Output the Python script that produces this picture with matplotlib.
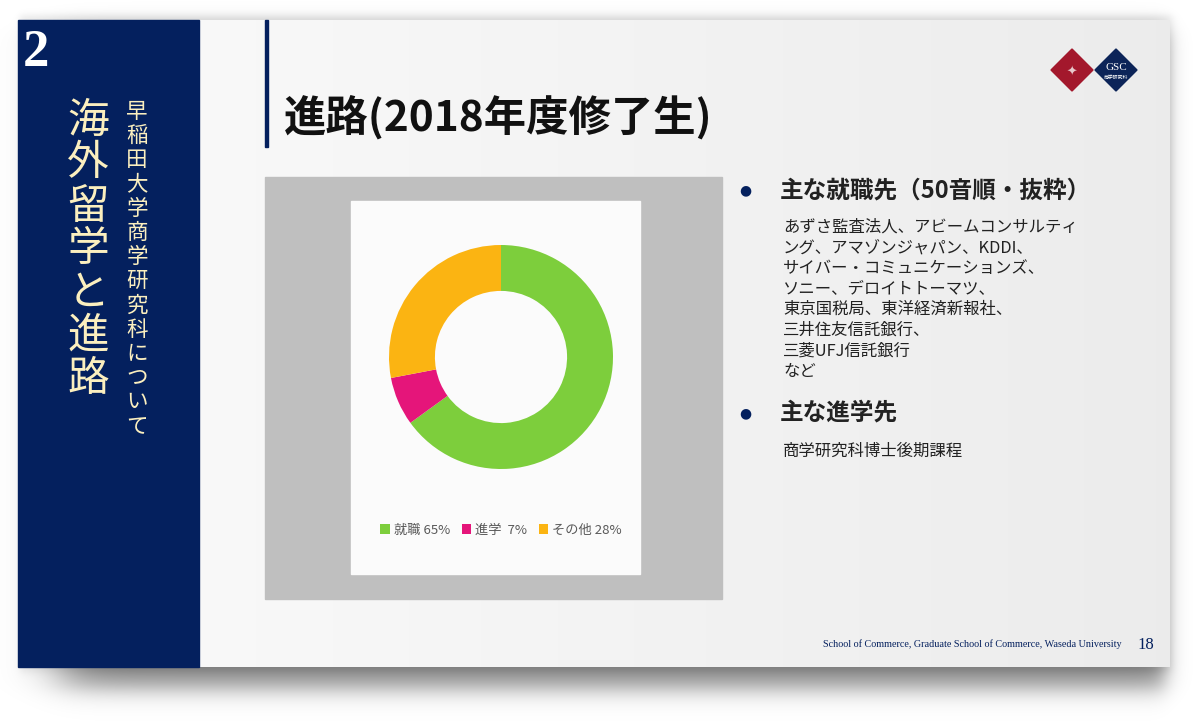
import numpy as np
import matplotlib
matplotlib.use("Agg")
import matplotlib.pyplot as plt
from matplotlib.patches import Rectangle, Polygon
from matplotlib.font_manager import FontProperties

plt.rcParams['font.family'] = ['Noto Sans CJK JP', 'DejaVu Sans']

# ---- data ----
categories = ["就職", "進学", "その他"]
shares = [65, 7, 28]
colors = ["#7dce3c", "#e5157a", "#fbb412"]

title = "進路(2018年度修了生)"
side_title = "海外留学と進路"
side_sub = "早稲田大学商学研究科について"
section_no = "2"
heading1 = "主な就職先（50音順・抜粋）"
body1 = ["あずさ監査法人、アビームコンサルティ",
         "ング、アマゾンジャパン、KDDI、",
         "サイバー・コミュニケーションズ、",
         "ソニー、デロイトトーマツ、",
         "東京国税局、東洋経済新報社、",
         "三井住友信託銀行、",
         "三菱UFJ信託銀行",
         "など"]
heading2 = "主な進学先"
body2 = ["商学研究科博士後期課程"]
footer = "School of Commerce, Graduate School of Commerce, Waseda University"
page_no = "18"

NAVY = "#04205e"
CREAM = "#fbefbf"

fig = plt.figure(figsize=(12, 7.21), dpi=100)
fig.patch.set_facecolor("white")
bg = fig.add_axes([0, 0, 1, 1])
bg.set_xlim(0, 1200)
bg.set_ylim(721, 0)
bg.axis("off")

# drop shadow (soft)
X, Y = np.meshgrid(np.arange(1200) + 0.5, np.arange(721) + 0.5)
def band(v, a, b, sa, sb):
    return 0.5 * (1 + np.tanh((v - a) / sa)) * 0.5 * (1 - np.tanh((v - b) / sb))
sh = band(X, 60, 1165, 30, 12) * band(Y, 30, 688, 12, 14)
sh2 = band(X, 20, 1172, 4, 5) * band(Y, 15, 672, 4, 5)
rgba = np.zeros((721, 1200, 4))
rgba[..., 3] = np.clip(sh * 0.45 + sh2 * 0.08, 0, 1)
bg.imshow(rgba, extent=[0, 1200, 721, 0], zorder=0, interpolation="bilinear")

# slide background gradient
grad = np.linspace(0, 1, 256)
c0 = np.array([0.985, 0.985, 0.985])
c1 = np.array([0.925, 0.925, 0.925])
img = (c0[None, :] * (1 - grad[:, None]) + c1[None, :] * grad[:, None])[None, :, :]
bg.imshow(img, extent=[18, 1170, 667, 20], aspect="auto", zorder=1)

# left navy panel
bg.add_patch(Rectangle((18, 20), 181, 647, color=NAVY, zorder=2))
bg.text(36, 53, section_no, color="white", fontsize=38, fontweight="bold",
        family="Liberation Serif", ha="center", va="center", zorder=3)
for i, ch in enumerate(side_title):
    bg.text(88, 121 + i * 43, ch, color=CREAM, fontsize=30, ha="center",
            va="center", zorder=3)
for i, ch in enumerate(side_sub):
    bg.text(137, 112 + i * 24.2, ch, color=CREAM, fontsize=15.5, ha="center",
            va="center", zorder=3)

# title bar and title
bg.add_patch(Rectangle((265, 20), 3, 127, color=NAVY, zorder=2))
bg.text(284, 117, title, fontsize=30.5, fontweight="bold", color="#111111",
        ha="left", va="center", zorder=3)

# logos
bg.add_patch(Polygon([(1072, 49), (1093, 70), (1072, 91), (1051, 70)],
                     closed=True, color="#a3182c", zorder=3))
bg.add_patch(Polygon([(1116, 49), (1137, 70), (1116, 91), (1095, 70)],
                     closed=True, color="#0c2458", zorder=3))
bg.text(1072, 72, "✦", color="#e8c9cc", fontsize=9, ha="center", va="center",
        family="DejaVu Sans", zorder=4)
bg.text(1116, 67, "GSC", color="white", fontsize=8, family="Liberation Serif",
        ha="center", va="center", zorder=4)
bg.text(1116, 77, "商学研究科", color="white", fontsize=3.5, ha="center",
        va="center", zorder=4)

# chart frame
bg.add_patch(Rectangle((265, 177), 457, 422, color="#bfbfbf", zorder=2))
bg.add_patch(Rectangle((351, 201), 289, 373, color="#fbfbfb", zorder=3))

# donut
cx, cy, r = 501, 357, 112
pax = fig.add_axes([(cx - r) / 1200, 1 - (cy + r) / 721, 2 * r / 1200, 2 * r / 721])
wedges, _ = pax.pie(shares, colors=colors, startangle=90, counterclock=False,
                    radius=1, wedgeprops=dict(width=0.41, edgecolor="none"))
pax.set_xlim(-1, 1)
pax.set_ylim(-1, 1)
pax.set_aspect("equal")
pax.axis("off")

labels = [f"{c} {v:>2}%" for c, v in zip(categories, shares)]
leg = fig.legend(wedges, labels, loc="center",
                 bbox_to_anchor=(501 / 1200, 1 - 530 / 721), ncol=3,
                 frameon=False, handlelength=0.7, handleheight=0.7,
                 handletextpad=0.3, columnspacing=0.9,
                 prop=FontProperties(family=['Noto Sans CJK JP'], size=9.5))
for t in leg.get_texts():
    t.set_color("#595959")

# right text
bg.text(745, 190, "●", color=NAVY, fontsize=10, ha="center", va="center",
        family="DejaVu Sans", zorder=3)
bg.text(780, 190, heading1, fontsize=17, fontweight="bold", color="#222222",
        ha="left", va="center", zorder=3)
for i, line in enumerate(body1):
    bg.text(783, 227 + i * 20.6, line, fontsize=11.8, color="#222222",
            ha="left", va="center", zorder=3)
bg.text(745, 413, "●", color=NAVY, fontsize=10, ha="center", va="center",
        family="DejaVu Sans", zorder=3)
bg.text(780, 413, heading2, fontsize=17, fontweight="bold", color="#222222",
        ha="left", va="center", zorder=3)
for i, line in enumerate(body2):
    bg.text(783, 451 + i * 20.6, line, fontsize=11.8, color="#222222",
            ha="left", va="center", zorder=3)

# footer
bg.text(1122, 644, footer, fontsize=7.3, color=NAVY, family="Liberation Serif",
        ha="right", va="center", zorder=3)
bg.text(1146, 645, page_no, fontsize=12, color=NAVY, family="Liberation Serif",
        ha="center", va="center", zorder=3)

fig.savefig("out.png", dpi=100)
